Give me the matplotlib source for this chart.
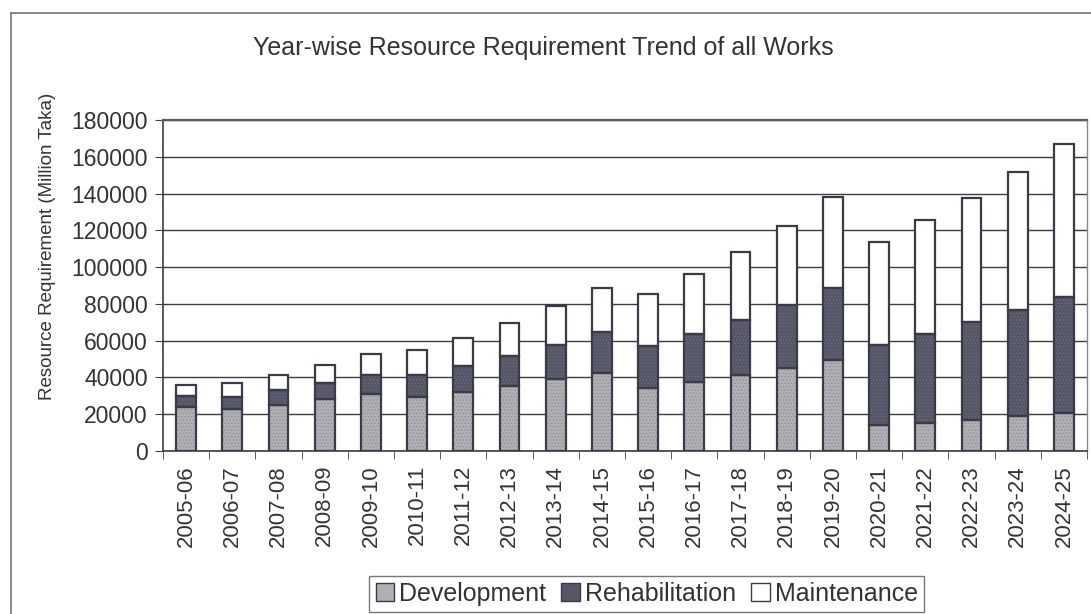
import numpy as np
import matplotlib.pyplot as plt
from matplotlib.lines import Line2D
from matplotlib.patches import Patch

plt.rcParams['font.family'] = ['Liberation Sans', 'DejaVu Sans']
plt.rcParams['hatch.linewidth'] = 0.5

years = ['2005-06', '2006-07', '2007-08', '2008-09', '2009-10', '2010-11', '2011-12',
         '2012-13', '2013-14', '2014-15', '2015-16', '2016-17', '2017-18', '2018-19',
         '2019-20', '2020-21', '2021-22', '2022-23', '2023-24', '2024-25']
development = [24100, 23000, 25200, 28100, 31000, 29500, 32000, 35300, 38900, 42600,
               34200, 37500, 41500, 45400, 49400, 14000, 15400, 16800, 19000, 20500]
rehabilitation = [5800, 6500, 7900, 8700, 10100, 11600, 14200, 16300, 18500, 22000,
                  22800, 26000, 29600, 34100, 39500, 43800, 48100, 53300, 57600, 63300]
maintenance = [5800, 7300, 8400, 9700, 11600, 13700, 15500, 18100, 21300, 24300,
               28300, 33000, 37300, 43100, 49200, 56100, 61900, 67700, 75300, 83300]

edge = '#3a3a48'
dev_col = '#b0b0b4'
reh_col = '#555766'
fig = plt.figure(figsize=(10.91, 6.14), dpi=100)
ax = fig.add_axes([163/1091, 1-451/614, (1087-163)/1091, (451-120)/614])

x = np.arange(len(years))
dev = np.array(development)
reh = np.array(rehabilitation)
mnt = np.array(maintenance)
w = 0.43
# textured fills first, outlines on top
ax.bar(x, dev, w, color=dev_col, edgecolor='#8c8c92', linewidth=0, hatch='.....', zorder=3)
ax.bar(x, reh, w, bottom=dev, color=reh_col, edgecolor='#6c6e7c', linewidth=0, hatch='.....', zorder=3)
ax.bar(x, mnt, w, bottom=dev + reh, color='white', linewidth=0, zorder=3)
for b, h in [(0, dev), (dev, reh), (dev + reh, mnt)]:
    ax.bar(x, h, w, bottom=b, fill=False, edgecolor=edge, linewidth=1.6, zorder=4)

ax.set_xlim(-0.5, len(years) - 0.5)
ax.set_ylim(0, 180000)
ax.set_yticks(np.arange(0, 180001, 20000))
ax.yaxis.grid(True, color='#3c3c44', linewidth=1.0, zorder=0)
ax.set_xticks(x)
ax.set_xticklabels(years, rotation=90, fontsize=16, color='#333333')
ax.set_xticks(np.arange(-0.5, len(years)), minor=True)
ax.tick_params(axis='x', which='major', length=0, pad=10)
ax.tick_params(axis='x', which='minor', length=6, color='#444444', direction='out')
ax.tick_params(axis='y', labelsize=16.5, labelcolor='#333333', length=6, color='#444444', pad=5)
for s in ['left', 'bottom']:
    ax.spines[s].set_color('#3c3c44')
    ax.spines[s].set_linewidth(1.2)
ax.spines['top'].set_color('#5a5a66')
ax.spines['top'].set_linewidth(1.6)
ax.spines['right'].set_color('#888888')
ax.spines['right'].set_linewidth(1.0)

fig.text(48/1091, 1-246/614, 'Resource Requirement (Million Taka)', rotation=90,
         ha='center', va='center', fontsize=13.5, color='#333333')
fig.text(0.498, 1-48/614, 'Year-wise Resource Requirement Trend of all Works',
         ha='center', va='center', fontsize=18, color='#333333')

# outer chart border
fig.add_artist(Line2D([11/1091, 11/1091], [0, 1-13/614], color='#777777', lw=1.2))
fig.add_artist(Line2D([11/1091, 1], [1-13/614, 1-13/614], color='#777777', lw=1.2))

handles = [Patch(facecolor=dev_col, edgecolor=edge, label='Development'),
           Patch(facecolor=reh_col, edgecolor=edge, label='Rehabilitation'),
           Patch(facecolor='white', edgecolor=edge, label='Maintenance')]
leg = fig.legend(handles=handles, loc='center', bbox_to_anchor=(0.593, 1-594/614), ncol=3,
                 fontsize=18, frameon=True, fancybox=False, edgecolor='#555555',
                 handlelength=0.75, handleheight=0.75, handletextpad=0.2, columnspacing=0.6,
                 borderpad=0.25, labelcolor='#333333')
leg.get_frame().set_linewidth(1.0)

fig.savefig('out.png', dpi=100)
